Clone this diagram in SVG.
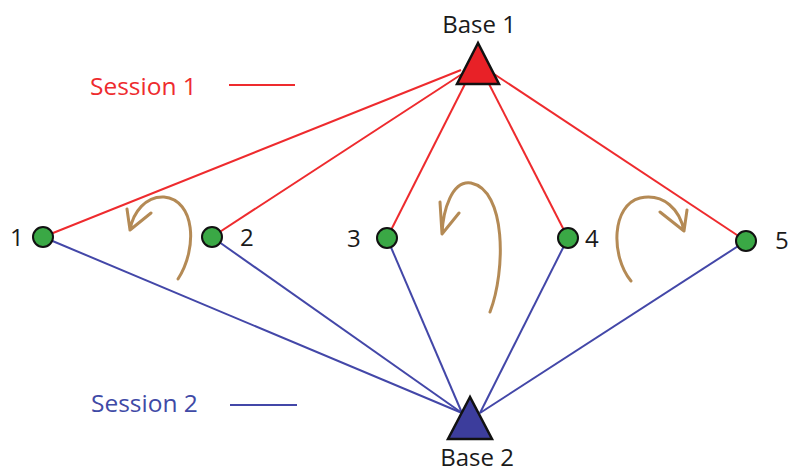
<svg xmlns="http://www.w3.org/2000/svg" width="789" height="475" viewBox="0 0 789 475">
<style>
.red{stroke:#ee2b2e;stroke-width:2;fill:none}
.blue{stroke:#4347a8;stroke-width:2;fill:none}
.arrow{stroke:#b48a55;stroke-width:3;fill:none;stroke-linecap:round;stroke-linejoin:round}
.node{fill:#3aa845;stroke:#111;stroke-width:2}
.lbl{font-family:"Open Sans","Liberation Sans",sans-serif;font-size:24px;fill:#1a1a1a}
.sess{font-family:"Open Sans","Liberation Sans",sans-serif;font-size:24.5px}
.base{stroke:#111;stroke-width:2.5;stroke-linejoin:miter}
</style>
<rect width="789" height="475" fill="#fff"/>
<g id="connectors">
<line class="red" x1="461" y1="70" x2="43" y2="237"/>
<line class="red" x1="462" y1="74" x2="212" y2="237"/>
<line class="red" x1="466" y1="82" x2="387" y2="238"/>
<line class="red" x1="488" y1="82" x2="568" y2="238"/>
<line class="red" x1="494" y1="74" x2="746" y2="241"/>
<line class="blue" x1="43" y1="237" x2="462" y2="413"/>
<line class="blue" x1="212" y1="237" x2="462" y2="413"/>
<line class="blue" x1="387" y1="238" x2="462" y2="413"/>
<line class="blue" x1="568" y1="238" x2="480" y2="413"/>
<line class="blue" x1="746" y1="241" x2="480" y2="413"/>
</g>
<g id="legend">
<text class="sess" x="90" y="95" fill="#ee2b2e">Session 1</text>
<line class="red" x1="229" y1="85" x2="295" y2="85"/>
<text class="sess" x="91" y="412" fill="#3f4aa6">Session 2</text>
<line class="blue" x1="230" y1="405" x2="297" y2="405"/>
</g>
<g id="arrows">
<path class="arrow" d="M178,279 C198,248 195,200 164,197 C146,196 133,212 130,230 M127,209 L130,230 L151,213"/>
<path class="arrow" d="M490,312 C506,270 506,190 471,183 C452,180 443,210 442,234 M440,202 L442,234 L459,213"/>
<path class="arrow" d="M631,281 C610,255 612,205 640,198 C664,193 680,210 684,231 M660,212 L684,231 L687,210"/>
</g>
<g id="base1">
<polygon class="base" points="478,43 457,84 499,84" fill="#e82127"/>
<text class="lbl" x="479" y="33" text-anchor="middle">Base 1</text>
</g>
<g id="base2">
<polygon class="base" points="470,397 448,439 492,439" fill="#3c3d9c"/>
<text class="lbl" x="477" y="466" text-anchor="middle">Base 2</text>
</g>
<g id="n1"><circle class="node" cx="43" cy="237" r="10"/><text class="lbl" x="10" y="246">1</text></g>
<g id="n2"><circle class="node" cx="212" cy="237" r="10"/><text class="lbl" x="240" y="246">2</text></g>
<g id="n3"><circle class="node" cx="387" cy="238" r="10"/><text class="lbl" x="347" y="247">3</text></g>
<g id="n4"><circle class="node" cx="568" cy="238" r="10"/><text class="lbl" x="585" y="247">4</text></g>
<g id="n5"><circle class="node" cx="746" cy="241" r="10"/><text class="lbl" x="775" y="249">5</text></g>
</svg>
